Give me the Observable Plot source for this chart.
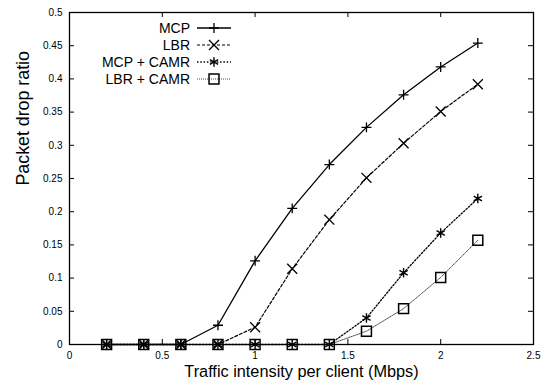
<!DOCTYPE html>
<html><head><meta charset="utf-8">
<script src="https://cdn.jsdelivr.net/npm/d3@7"></script>
<script src="https://cdn.jsdelivr.net/npm/@observablehq/plot@0.6"></script>
<style>
body{margin:0;background:#fff}
#chart{width:548px;height:383px;position:relative}
</style>
</head><body><div id="chart"></div>
<script>
// ---- data ----
const xValues = [0.2, 0.4, 0.6, 0.8, 1.0, 1.2, 1.4, 1.6, 1.8, 2.0, 2.2];
const mcp     = [0, 0, 0, 0.029, 0.126, 0.205, 0.271, 0.327, 0.376, 0.418, 0.454];
const lbr     = [0, 0, 0, 0, 0.026, 0.114, 0.188, 0.251, 0.303, 0.351, 0.392];
const mcpCamr = [0, 0, 0, 0, 0, 0, 0, 0.040, 0.108, 0.168, 0.220];
const lbrCamr = [0, 0, 0, 0, 0, 0, 0, 0.020, 0.054, 0.101, 0.157];
const seriesNames = ["MCP", "LBR", "MCP + CAMR", "LBR + CAMR"];
const xTicks = [0, 0.5, 1, 1.5, 2, 2.5];
const yTicks = [0, 0.05, 0.1, 0.15, 0.2, 0.25, 0.3, 0.35, 0.4, 0.45, 0.5];
const xLabel = "Traffic intensity per client (Mbps)";
const yLabel = "Packet drop ratio";

// ---- styles ----
const W = 548, H = 383, mL = 69, mR = 15, mT = 12, mB = 39;
const iw = W - mL - mR, ih = H - mT - mB, tick = 5;
const styles = [
  {symbol: "plus",     r: 3.3, dash: null,      width: 1.3, stroke: "#000", mw: 1.3},
  {symbol: "times",    r: 4.6, dash: "3,2",     width: 1.2, stroke: "#000", mw: 1.3},
  {symbol: "asterisk", r: 4.5, dash: "1.5,1.8", width: 1.3, stroke: "#000", mw: 1.4},
  {symbol: "square",   r: 5.6, dash: "1,1",     width: 0.8, stroke: "#222", mw: 1.5}
];
const seriesValues = [mcp, lbr, mcpCamr, lbrCamr];
const tables = seriesValues.map(vals => xValues.map((x, i) => ({x, y: vals[i]})));

const marks = [];
tables.forEach((t, k) => {
  const s = styles[k];
  marks.push(Plot.line(t, {x: "x", y: "y", stroke: s.stroke, strokeWidth: s.width, strokeDasharray: s.dash}));
});
tables.forEach((t, k) => {
  const s = styles[k];
  marks.push(Plot.dot(t, {x: "x", y: "y", symbol: s.symbol, r: s.r, fill: "none", stroke: "#000", strokeWidth: s.mw}));
});

const plot = Plot.plot({
  width: W, height: H,
  marginLeft: mL, marginRight: mR, marginTop: mT, marginBottom: mB,
  style: {fontFamily: "'Liberation Sans', Arial, Helvetica, sans-serif", fontSize: "10px", background: "#fff", color: "#000"},
  x: {domain: [0, 2.5]},
  y: {domain: [0, 0.5]},
  marks: [
    Plot.tickX(xTicks, {x: d => d, insetTop: ih - tick, stroke: "#000"}),
    Plot.tickX(xTicks, {x: d => d, insetBottom: ih - tick, stroke: "#000"}),
    Plot.tickY(yTicks, {y: d => d, insetRight: iw - tick, stroke: "#000"}),
    Plot.tickY(yTicks, {y: d => d, insetLeft: iw - tick, stroke: "#000"}),
    Plot.axisX({ticks: xTicks, tickSize: 0, tickPadding: 7, tickFormat: d => String(d), label: null, fill: "#000"}),
    Plot.axisY({ticks: yTicks, tickSize: 0, tickPadding: 7, tickFormat: d => String(d), label: null, fill: "#000"}),
    ...marks,
    Plot.frame({stroke: "#000", strokeWidth: 1.3}),
    Plot.text([xLabel], {text: d => d, frameAnchor: "bottom", dy: 27, fontSize: 16.3, lineAnchor: "middle", fill: "#000"}),
    Plot.text([yLabel], {text: d => d, frameAnchor: "left", dx: -46, dy: 7, rotate: -90, fontSize: 17.8, lineAnchor: "middle", fill: "#000"})
  ]
});
document.getElementById("chart").appendChild(plot);

// ---- legend (inside plot, top-left) ----
const svg = d3.select(plot);
const lg = svg.append("g").attr("class", "legend");
const symMap = {plus: d3.symbolPlus, times: d3.symbolTimes, asterisk: d3.symbolAsterisk, square: d3.symbolSquare};
seriesNames.forEach((name, k) => {
  const s = styles[k];
  const y = 28 + k * 17;
  lg.append("text").attr("x", 190).attr("y", y).attr("dy", "0.35em")
    .attr("text-anchor", "end").attr("font-size", 14).attr("fill", "#000").text(name);
  lg.append("line").attr("x1", 197).attr("x2", 231).attr("y1", y).attr("y2", y)
    .attr("stroke", s.stroke).attr("stroke-width", s.width).attr("stroke-dasharray", s.dash);
  lg.append("path").attr("transform", `translate(214,${y})`)
    .attr("d", d3.symbol(symMap[s.symbol], Math.PI * s.r * s.r)())
    .attr("fill", "none").attr("stroke", "#000").attr("stroke-width", s.mw);
});
</script>
</body></html>
